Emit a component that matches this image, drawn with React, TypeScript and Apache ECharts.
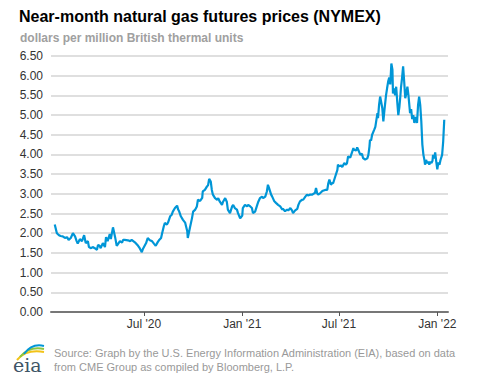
import React, { useEffect, useRef } from 'react';
import * as echarts from 'echarts';

// Near-month natural gas futures (NYMEX), $/MMBtu.
const START_DATE = '2020-01-01';
const dayOffsets = [
  15, 19, 23, 26, 30, 34, 38, 41, 45, 49,
  53, 56, 58, 62, 66, 70, 73, 77, 79, 83,
  86, 90, 94, 96, 99, 101, 105, 109, 111, 114,
  118, 120, 124, 128, 131, 133, 137, 141, 143, 146,
  152, 156, 159, 165, 171, 174, 178, 180, 186, 189,
  193, 197, 201, 204, 208, 210, 214, 216, 219, 221,
  225, 227, 231, 234, 236, 240, 244, 246, 248, 251,
  255, 259, 263, 264, 268, 272, 274, 278, 281, 283,
  287, 291, 292, 296, 300, 302, 304, 307, 309, 311,
  315, 319, 321, 324, 328, 330, 334, 337, 339, 343,
  347, 349, 352, 356, 358, 362, 366, 367, 371, 375,
  377, 381, 384, 386, 390, 394, 396, 399, 403, 405,
  409, 412, 414, 416, 420, 422, 426, 429, 433, 437,
  441, 442, 446, 450, 452, 456, 459, 461, 465, 469,
  471, 474, 478, 480, 484, 487, 489, 493, 497, 499,
  502, 504, 506, 508, 512, 515, 517, 521, 525, 527,
  529, 532, 534, 536, 540, 544, 545, 547, 551, 553,
  557, 560, 562, 564, 568, 572, 574, 575, 579, 581,
  583, 587, 590, 592, 596, 600, 602, 604, 605, 607,
  609, 613, 615, 617, 619, 620, 622, 624, 628, 630,
  632, 635, 637, 639, 641, 643, 645, 647, 648, 650,
  652, 654, 656, 658, 660, 662, 663, 665, 667, 669,
  671, 673, 675, 677, 678, 680, 682, 684, 686, 688,
  690, 692, 693, 695, 697, 699, 701, 703, 705, 707,
  708, 710, 712, 714, 716, 718, 720, 722, 723, 725,
  727, 729, 731, 733, 735, 737, 740, 742, 744,
];
const prices = [
  2.22, 2.0, 1.95, 1.93, 1.92, 1.88, 1.9, 1.83, 1.88, 2.0,
  1.92, 1.8, 1.74, 1.85, 1.8, 1.95, 1.75, 1.8, 1.65, 1.62,
  1.65, 1.62, 1.58, 1.7, 1.68, 1.62, 1.75, 1.65, 1.9, 1.8,
  1.98, 1.85, 2.15, 1.9, 1.68, 1.72, 1.8, 1.76, 1.83, 1.83,
  1.82, 1.8, 1.83, 1.77, 1.68, 1.62, 1.52, 1.6, 1.75, 1.88,
  1.82, 1.8, 1.73, 1.68, 1.78, 1.82, 1.88, 2.0, 2.17, 2.26,
  2.22, 2.27, 2.43, 2.47, 2.55, 2.64, 2.7, 2.6, 2.55, 2.43,
  2.34, 2.27, 2.05, 1.88, 2.14, 2.39, 2.55, 2.6, 2.68, 2.85,
  2.82, 2.9, 3.06, 3.1, 3.19, 3.22, 3.38, 3.31, 3.1, 2.98,
  2.89, 2.85, 2.89, 2.8, 2.72, 2.8, 2.89, 2.8, 2.6, 2.51,
  2.68, 2.72, 2.64, 2.6, 2.51, 2.38, 2.45, 2.64, 2.72, 2.68,
  2.72, 2.68, 2.64, 2.51, 2.55, 2.72, 2.8, 2.89, 2.93, 2.89,
  2.93, 3.06, 3.23, 3.15, 2.98, 2.93, 2.81, 2.77, 2.72, 2.68,
  2.6, 2.62, 2.56, 2.6, 2.58, 2.64, 2.58, 2.51, 2.58, 2.62,
  2.72, 2.81, 2.85, 2.85, 2.93, 2.98, 2.96, 2.98, 2.98, 3.0,
  3.02, 3.15, 3.02, 2.98, 3.02, 3.06, 3.08, 3.1, 3.1, 3.27,
  3.36, 3.23, 3.27, 3.27, 3.44, 3.61, 3.74, 3.7, 3.72, 3.68,
  3.78, 3.74, 3.78, 3.95, 3.92, 4.08, 4.16, 4.12, 4.1, 4.18,
  4.12, 3.99, 4.02, 3.91, 3.87, 3.9, 3.99, 4.2, 4.37, 4.35,
  4.5, 4.63, 4.7, 4.88, 5.05, 4.92, 5.26, 5.47, 5.18, 4.84,
  5.12, 5.5, 5.68, 5.85, 5.95, 5.78, 6.31, 6.15, 5.55, 5.68,
  5.5, 5.72, 5.34, 5.0, 5.2, 5.51, 5.7, 5.94, 6.24, 5.85,
  5.43, 5.55, 5.72, 5.5, 5.35, 5.05, 5.15, 4.9, 5.0, 4.8,
  4.95, 4.85, 4.8, 5.26, 5.47, 5.26, 4.85, 4.25, 3.99, 3.85,
  3.74, 3.86, 3.78, 3.82, 3.74, 3.82, 3.78, 3.84, 3.99, 3.9,
  4.05, 3.82, 3.62, 3.8, 3.74, 3.86, 3.99, 4.33, 4.88,
];
const tickDates = ['2020-07-01', '2021-01-01', '2021-07-01', '2022-01-01'];
const tickLabels = ["Jul '20", "Jan '21", "Jul '21", "Jan '22"];
const axisStart = '2020-01-09';
const axisEnd = '2022-01-21';

const TITLE = 'Near-month natural gas futures prices (NYMEX)';
const SUBTITLE = 'dollars per million British thermal units';
const SOURCE = 'Source: Graph by the U.S. Energy Information Administration (EIA), based on data\nfrom CME Group as compiled by Bloomberg, L.P.';

const DAY_MS = 86400000;
const toMs = (s: string) => Date.parse(s + 'T00:00:00Z');

const FONT = '"Liberation Sans", Arial, Helvetica, sans-serif';

export default function App() {
  const ref = useRef<HTMLDivElement>(null);
  useEffect(() => {
    if (!ref.current) return;
    const chart = echarts.init(ref.current, undefined, { renderer: 'svg' });
    const base = toMs(START_DATE);
    const data = dayOffsets.map((d, i) => [base + d * DAY_MS, prices[i]]);
    const tickMs = tickDates.map(toMs);
    const labelFor = (v: number) => {
      const i = tickMs.findIndex((t) => Math.abs(t - v) < DAY_MS);
      return i >= 0 ? tickLabels[i] : '';
    };
    chart.setOption({
      animation: false,
      backgroundColor: '#ffffff',
      grid: { left: 51, right: 29, top: 56, bottom: 67, containLabel: false },
      xAxis: {
        type: 'value',
        min: toMs(axisStart),
        max: toMs(axisEnd),
        axisLine: { show: true, lineStyle: { color: '#777777', width: 2 } },
        axisTick: {
          show: true,
          customValues: tickMs,
          length: 4,
          lineStyle: { color: '#555555', width: 1 },
        },
        axisLabel: {
          customValues: tickMs,
          formatter: (v: number) => labelFor(v),
          color: '#333333',
          fontSize: 12,
          fontFamily: FONT,
          margin: 6,
        },
        splitLine: { show: false },
      },
      yAxis: {
        type: 'value',
        min: 0,
        max: 6.5,
        interval: 0.5,
        axisLine: { show: false },
        axisTick: { show: false },
        axisLabel: {
          formatter: (v: number) => v.toFixed(2),
          color: '#333333',
          fontSize: 12,
          fontFamily: FONT,
          margin: 8,
        },
        splitLine: { show: true, lineStyle: { color: '#d4d4d4', width: 1.5 } },
      },
      series: [
        {
          type: 'line',
          data,
          showSymbol: false,
          lineStyle: { color: '#0096d7', width: 2.2 },
          z: 3,
        },
      ],
      graphic: [
        {
          type: 'text',
          left: 19,
          top: 8,
          style: { text: TITLE, font: `bold 16px ${FONT}`, fill: '#000000' },
        },
        {
          type: 'text',
          left: 20,
          top: 32,
          style: { text: SUBTITLE, font: `bold 12px ${FONT}`, fill: '#a0a0a0' },
        },
        {
          type: 'text',
          left: 54,
          top: 346,
          style: { text: SOURCE, font: `11px ${FONT}`, fill: '#999999', lineHeight: 14 },
        },
        {
          type: 'text',
          left: 13,
          top: 355,
          style: { text: 'eia', font: '19px "DejaVu Serif", serif', fill: '#3e5566' },
        },
        {
          type: 'bezierCurve',
          shape: { x1: 17, y1: 360, x2: 44, y2: 352, cpx1: 26, cpy1: 349 },
          style: { stroke: '#f2c318', lineWidth: 2, fill: 'none' },
        },
        {
          type: 'bezierCurve',
          shape: { x1: 20, y1: 357, x2: 44, y2: 349, cpx1: 29, cpy1: 346 },
          style: { stroke: '#8cc63f', lineWidth: 2, fill: 'none' },
        },
        {
          type: 'bezierCurve',
          shape: { x1: 24, y1: 354, x2: 44, y2: 346, cpx1: 32, cpy1: 343 },
          style: { stroke: '#0096d7', lineWidth: 2, fill: 'none' },
        },
      ],
    });
    return () => chart.dispose();
  }, []);
  return (
    <div
      ref={ref}
      style={{ position: 'fixed', left: 0, top: 0, width: 477, height: 379, background: '#fff' }}
    />
  );
}
